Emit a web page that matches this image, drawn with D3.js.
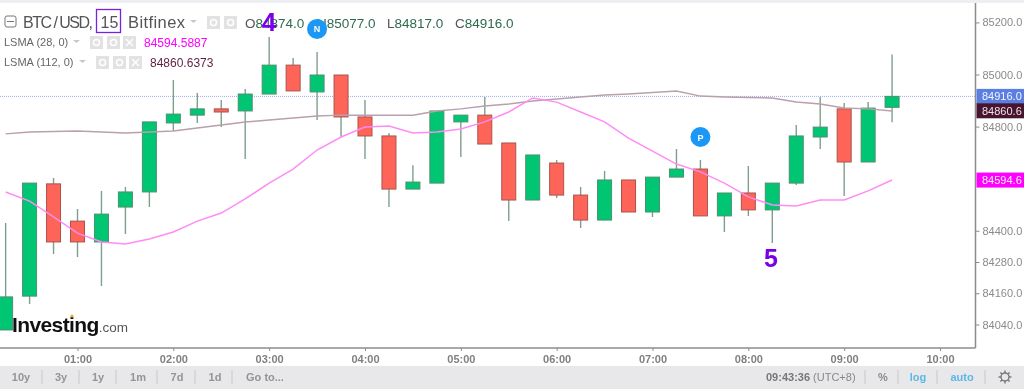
<!DOCTYPE html>
<html>
<head>
<meta charset="utf-8">
<script src="https://cdnjs.cloudflare.com/ajax/libs/d3/7.8.5/d3.min.js"></script>
<style>
  html, body { margin: 0; padding: 0; background: #fff; overflow: hidden; }
  svg { display: block; filter: blur(0.45px); font-family: "Liberation Sans", Arial, sans-serif; }
</style>
</head>
<body>
<div id="chart"></div>
<script>
const times = ["00:15","00:30","00:45","01:00","01:15","01:30","01:45","02:00","02:15","02:30","02:45","03:00","03:15","03:30","03:45","04:00","04:15","04:30","04:45","05:00","05:15","05:30","05:45","06:00","06:15","06:30","06:45","07:00","07:15","07:30","07:45","08:00","08:15","08:30","08:45","09:00","09:15","09:30"];
const open  = [84019,84149,84580,84437,84357,84491,84549,84814,84844,84868,84860,84925,85036,84933,84998,84837,84764,84560,84583,84818,84844,84737,84518,84660,84537,84441,84595,84472,84606,84637,84457,84545,84480,84583,84760,84868,84664,84874];
const high  = [84430,84583,84603,84484,84553,84568,84818,84979,84929,84902,84944,85144,85063,85086,84998,84902,84775,84652,84860,84844,84914,84737,84691,84672,84568,84629,84595,84606,84714,84672,84545,84649,84583,84806,84914,84891,84894,85077];
const low   = [84019,84119,84311,84299,84188,84388,84491,84783,84814,84798,84676,84925,84937,84825,84760,84676,84491,84560,84583,84683,84733,84437,84518,84526,84411,84441,84472,84453,84606,84457,84395,84457,84353,84576,84714,84533,84664,84817];
const close = [84146,84583,84357,84357,84464,84549,84818,84848,84868,84856,84925,85036,84937,84998,84837,84764,84560,84587,84860,84844,84733,84518,84691,84537,84441,84595,84472,84606,84637,84457,84545,84480,84583,84764,84798,84664,84871,84916];
const lsma28  = [84549,84514,84453,84391,84357,84349,84368,84395,84437,84468,84522,84583,84637,84710,84760,84798,84802,84775,84779,84791,84818,84856,84910,84894,84856,84818,84756,84706,84656,84626,84583,84530,84499,84495,84518,84518,84553,84595];
const lsma112 = [84772,84779,84781,84783,84779,84775,84779,84783,84795,84806,84818,84825,84833,84841,84844,84844,84844,84844,84860,84868,84879,84887,84898,84906,84914,84921,84925,84931,84937,84917,84914,84912,84910,84894,84887,84871,84868,84860];
const priceTicks = [85200,85000,84800,84400,84280,84160,84040];
const timeTicks = ["01:00","02:00","03:00","04:00","05:00","06:00","07:00","08:00","09:00","10:00"];
const rangeButtons = ["10y","3y","1y","1m","7d","1d","Go to..."];
const lastPrice = 84916.0, lsma28Last = 84594.5887, lsma112Last = 84860.6373;

const width = 1024, height = 389;
const plotRight = 975.5, plotBottom = 348;
const parseTime = d3.utcParse("%H:%M");

const x = d3.scaleUtc()
    .domain([parseTime("01:00"), parseTime("10:00")])
    .range([77.5, 940]);
const y = d3.scaleLinear()
    .domain([84040, 85000])
    .range([324.5, 74.5]);

const svg = d3.select("#chart").append("svg")
    .attr("width", width)
    .attr("height", height);

// page furniture
svg.append("rect").attr("width", width).attr("height", 3).attr("fill", "#eceef2");
svg.append("rect").attr("y", 366).attr("width", width).attr("height", 23).attr("fill", "#e8e8eb");

const defs = svg.append("defs");
defs.append("clipPath").attr("id", "plot")
    .append("rect").attr("width", plotRight).attr("height", plotBottom);

const plot = svg.append("g").attr("clip-path", "url(#plot)");

// last price line
plot.append("line")
    .attr("x1", 0).attr("x2", plotRight)
    .attr("y1", y(lastPrice)).attr("y2", y(lastPrice))
    .attr("stroke", "#9aabee")
    .attr("stroke-dasharray", "1 1");

// candles
const candle = plot.selectAll("g.candle")
    .data(times.map((t, i) => ({t: parseTime(t), o: open[i], h: high[i], l: low[i], c: close[i]})))
    .join("g").attr("class", "candle");

candle.append("line")
    .attr("x1", d => x(d.t)).attr("x2", d => x(d.t))
    .attr("y1", d => y(d.h)).attr("y2", d => y(d.l))
    .attr("stroke", "#7f9f8d")
    .attr("stroke-width", 1.4);

candle.append("rect")
    .attr("x", d => x(d.t) - 7)
    .attr("width", 14)
    .attr("y", d => y(Math.max(d.o, d.c)))
    .attr("height", d => Math.max(1, Math.abs(y(d.o) - y(d.c))))
    .attr("fill", d => d.c >= d.o ? "#00c673" : "#ff6459")
    .attr("stroke", d => d.c >= d.o ? "#4d8f70" : "#a8544d")
    .attr("stroke-width", 1);

// moving averages
const line = d3.line()
    .x((d, i) => x(parseTime(times[i])))
    .y(d => y(d));

plot.append("path").datum(lsma112)
    .attr("d", line).attr("fill", "none")
    .attr("stroke", "#b9a0ac").attr("stroke-width", 1.5);
plot.append("path").datum(lsma28)
    .attr("d", line).attr("fill", "none")
    .attr("stroke", "#ff8cf5").attr("stroke-width", 1.5);

// axes
const axisColor = "#8c8c8c";
const yAxis = svg.append("g")
    .attr("transform", `translate(${plotRight},0)`)
    .call(d3.axisRight(y)
        .tickValues(priceTicks)
        .tickSize(4)
        .tickPadding(3)
        .tickFormat(d3.format(".1f")));
yAxis.select(".domain").attr("d", `M0,3V${plotBottom}`).attr("stroke", axisColor).attr("stroke-width", 1.5);
yAxis.selectAll(".tick line").attr("stroke", axisColor);
yAxis.selectAll("text").attr("fill", "#8a8a8a").attr("font-size", 11)
    .attr("font-family", "Liberation Sans, Arial, sans-serif");

const xAxis = svg.append("g")
    .attr("transform", `translate(0,${plotBottom})`)
    .call(d3.axisBottom(x)
        .tickValues(timeTicks.map(parseTime))
        .tickSize(3)
        .tickPadding(4)
        .tickFormat(d3.utcFormat("%H:%M")));
xAxis.select(".domain").attr("d", `M0,0H${plotRight}`).attr("stroke", axisColor).attr("stroke-width", 1.5);
xAxis.selectAll(".tick line").attr("stroke", axisColor);
xAxis.selectAll("text").attr("fill", "#808080").attr("font-size", 11).attr("font-weight", 700)
    .attr("font-family", "Liberation Sans, Arial, sans-serif");

// price badges on the axis
function badge(value, fill, color) {
    svg.append("rect")
        .attr("x", plotRight + 1).attr("y", y(value) - 7.5)
        .attr("width", width - plotRight).attr("height", 15)
        .attr("fill", fill);
    svg.append("text")
        .attr("x", 982).attr("y", y(value) + 4)
        .attr("font-size", 11).attr("fill", color)
        .text(value.toFixed(1));
}
badge(lastPrice, "#5b7fe0", "#f2f4ff");
badge(lsma112Last, "#47152f", "#f0dfe8");
badge(lsma28Last, "#ff00ff", "#fff0ff");

// legend helpers
function txt(px, py, str, size, color, extra) {
    const t = svg.append("text").attr("x", px).attr("y", py)
        .attr("font-size", size).attr("fill", color).text(str);
    if (extra) extra(t);
    return t;
}
function iconBox(px, py) {
    svg.append("rect").attr("x", px).attr("y", py).attr("width", 13).attr("height", 13).attr("fill", "#e2e2e2");
    svg.append("circle").attr("cx", px + 6.5).attr("cy", py + 6.5).attr("r", 3)
        .attr("fill", "none").attr("stroke", "#fff").attr("stroke-width", 1.5);
}
function closeBox(px, py) {
    svg.append("rect").attr("x", px).attr("y", py).attr("width", 13).attr("height", 13).attr("fill", "#e2e2e2");
    svg.append("path").attr("d", `M${px + 3},${py + 3}l7,7m0,-7l-7,7`).attr("stroke", "#fff").attr("stroke-width", 1.4);
}
function caret(px, py) {
    svg.append("path").attr("d", `M${px},${py}h7l-3.5,3z`).attr("fill", "#c8c8c8");
}

// header row
svg.append("rect").attr("x", 5).attr("y", 16).attr("width", 11).attr("height", 11)
    .attr("rx", 2).attr("fill", "none").attr("stroke", "#777");
svg.append("line").attr("x1", 7).attr("x2", 14).attr("y1", 21.5).attr("y2", 21.5).attr("stroke", "#777");
txt(23, 28, "BTC / USD,", 16, "#555", t => t.attr("textLength", 70));
svg.append("rect").attr("x", 96.5).attr("y", 9.5).attr("width", 24).attr("height", 23)
    .attr("fill", "none").attr("stroke", "#7a1fe0").attr("stroke-width", 1.3);
txt(100.5, 28, "15", 16, "#555");
txt(128, 28, "Bitfinex", 16.5, "#555", t => t.attr("textLength", 57));
caret(190, 20);
iconBox(207, 16);
iconBox(224, 16);

const ohlcLabels = ["O", "H", "L", "C"];
const ohlcValues = [open[37], high[37], low[37], close[37]];
const ohlcX = [245, 317, 387, 455];
ohlcLabels.forEach((l, i) => {
    const t = txt(ohlcX[i], 28, l, 13.5, "#555");
    t.append("tspan").attr("fill", "#2f6a4d").text(ohlcValues[i].toFixed(1));
});

// indicator rows
txt(4, 46, "LSMA (28, 0)", 11, "#666");
caret(73, 40);
iconBox(90, 36); iconBox(107, 36); closeBox(123, 36);
txt(144, 47, lsma28Last.toFixed(4), 12, "#ff00ff");

txt(4, 66, "LSMA (112, 0)", 11, "#666");
caret(79, 60);
iconBox(96, 56); iconBox(113, 56); closeBox(129, 56);
txt(150, 67, lsma112Last.toFixed(4), 12, "#5e1f42");

// event markers
function marker(time, price, letter) {
    const cx = x(parseTime(time)), cy = y(price);
    svg.append("circle").attr("cx", cx).attr("cy", cy).attr("r", 10).attr("fill", "#1b98f5");
    txt(cx, cy + 3.5, letter, 9, "#fff", t => t.attr("text-anchor", "middle").attr("font-weight", 700));
}
marker("03:30", 85175, "N");
marker("07:30", 84760, "P");

// wave annotations
const purple = "#7a00e6";
txt(269, 31, "4", 26, purple, t => t.attr("text-anchor", "middle").attr("font-weight", 700));
txt(771, 267, "5", 25, purple, t => t.attr("text-anchor", "middle").attr("font-weight", 700));

// watermark
const logo = txt(12, 332, "Investing", 21, "#111", t => t.attr("font-weight", 700).attr("letter-spacing", -0.6));
logo.append("tspan").attr("font-weight", 400).attr("font-size", 13.5).attr("fill", "#555").attr("letter-spacing", 0).text(".com");
svg.append("circle").attr("cx", 72).attr("cy", 316).attr("r", 1.6).attr("fill", "#f5a623");

// bottom toolbar
const buttonX = [21, 61, 98, 138, 177, 215, 265];
const sepX = [42, 79, 116, 157, 195, 232];
rangeButtons.forEach((b, i) => {
    txt(buttonX[i], 381, b, 11, "#949494", t => t.attr("text-anchor", "middle").attr("font-weight", 700));
});
[...sepX, 865, 898, 937, 985].forEach(sx => {
    svg.append("line").attr("x1", sx).attr("x2", sx).attr("y1", 370).attr("y2", 384).attr("stroke", "#c8c8cc");
});
const clock = txt(766, 381, "09:43:36", 11, "#777", t => t.attr("font-weight", 700));
clock.append("tspan").attr("font-weight", 400).attr("fill", "#888").text(" (UTC+8)");
txt(883, 381, "%", 11, "#8a8a8a", t => t.attr("text-anchor", "middle").attr("font-weight", 700));
txt(918, 381, "log", 11, "#5cb8e6", t => t.attr("text-anchor", "middle").attr("font-weight", 700));
txt(962, 381, "auto", 11, "#5cb8e6", t => t.attr("text-anchor", "middle").attr("font-weight", 700));

// gear
const gear = svg.append("g").attr("transform", "translate(1005,377)");
gear.append("circle").attr("r", 4).attr("fill", "none").attr("stroke", "#777").attr("stroke-width", 1.4);
d3.range(8).forEach(k => {
    gear.append("line").attr("y1", -4).attr("y2", -6.5)
        .attr("transform", `rotate(${k * 45})`)
        .attr("stroke", "#777").attr("stroke-width", 1.4);
});
</script>
</body>
</html>
